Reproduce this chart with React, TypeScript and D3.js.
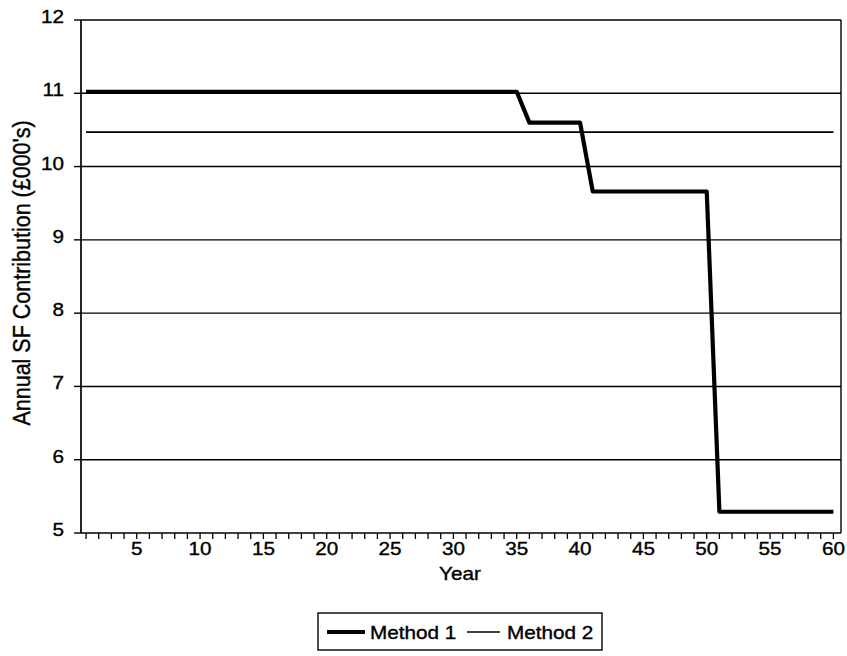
import React from "react";
import * as d3 from "d3";

const years: number[] = [
  1, 2, 3, 4, 5, 6, 7, 8, 9, 10, 11, 12, 13, 14, 15, 16, 17, 18, 19, 20,
  21, 22, 23, 24, 25, 26, 27, 28, 29, 30, 31, 32, 33, 34, 35, 36, 37, 38, 39, 40,
  41, 42, 43, 44, 45, 46, 47, 48, 49, 50, 51, 52, 53, 54, 55, 56, 57, 58, 59, 60,
];

const method1: number[] = [
  11.02, 11.02, 11.02, 11.02, 11.02, 11.02, 11.02, 11.02, 11.02, 11.02,
  11.02, 11.02, 11.02, 11.02, 11.02, 11.02, 11.02, 11.02, 11.02, 11.02,
  11.02, 11.02, 11.02, 11.02, 11.02, 11.02, 11.02, 11.02, 11.02, 11.02,
  11.02, 11.02, 11.02, 11.02, 11.02, 10.6, 10.6, 10.6, 10.6, 10.6,
  9.66, 9.66, 9.66, 9.66, 9.66, 9.66, 9.66, 9.66, 9.66, 9.66,
  5.29, 5.29, 5.29, 5.29, 5.29, 5.29, 5.29, 5.29, 5.29, 5.29,
];

const method2: number[] = [
  10.47, 10.47, 10.47, 10.47, 10.47, 10.47, 10.47, 10.47, 10.47, 10.47,
  10.47, 10.47, 10.47, 10.47, 10.47, 10.47, 10.47, 10.47, 10.47, 10.47,
  10.47, 10.47, 10.47, 10.47, 10.47, 10.47, 10.47, 10.47, 10.47, 10.47,
  10.47, 10.47, 10.47, 10.47, 10.47, 10.47, 10.47, 10.47, 10.47, 10.47,
  10.47, 10.47, 10.47, 10.47, 10.47, 10.47, 10.47, 10.47, 10.47, 10.47,
  10.47, 10.47, 10.47, 10.47, 10.47, 10.47, 10.47, 10.47, 10.47, 10.47,
];

const xTickLabels: number[] = [5, 10, 15, 20, 25, 30, 35, 40, 45, 50, 55, 60];
const yTicks: number[] = [5, 6, 7, 8, 9, 10, 11, 12];
const seriesNames: string[] = ["Method 1", "Method 2"];

const FONT = "'Liberation Sans', Arial, sans-serif";
const SX = 1.15;

function SText(props: {
  x: number;
  y: number;
  anchor?: string;
  size?: number;
  rotate?: number;
  children: React.ReactNode;
}) {
  const { x, y, anchor = "start", size = 18, rotate = 0, children } = props;
  return (
    <text
      transform={`translate(${x},${y}) scale(${SX},1)${rotate ? ` rotate(${rotate})` : ""}`}
      textAnchor={anchor}
      fontFamily={FONT}
      fontSize={size}
      fill="#000"
      stroke="#000"
      strokeWidth={0.35}
    >
      {children}
    </text>
  );
}

export default function App() {
  const W = 847;
  const H = 656;
  const left = 81;
  const right = 841;
  const top = 20;
  const bottom = 533;

  const x = d3.scaleLinear().domain([0.6, 60.6]).range([left, right]);
  const y = d3.scaleLinear().domain([5, 12]).range([bottom, top]);

  const line = d3
    .line<number>()
    .x((_, i) => x(years[i]))
    .y((d) => y(d));

  return (
    <svg
      width={W}
      height={H}
      style={{ position: "absolute", left: 0, top: 0, background: "#fff" }}
    >
      <rect x={0} y={0} width={W} height={H} fill="#fff" />
      {yTicks
        .filter((t) => t > 5)
        .map((t) => (
          <line
            key={"g" + t}
            x1={left}
            x2={right}
            y1={y(t)}
            y2={y(t)}
            stroke="#000"
            strokeWidth={1.4}
          />
        ))}
      <line x1={right} x2={right} y1={top} y2={bottom} stroke="#000" strokeWidth={1.4} />
      <line x1={left} x2={left} y1={top} y2={bottom} stroke="#000" strokeWidth={1.7} />
      <line x1={left} x2={right} y1={bottom} y2={bottom} stroke="#000" strokeWidth={1.7} />
      {yTicks.map((t) => (
        <g key={"yt" + t}>
          <line x1={left - 7} x2={left} y1={y(t)} y2={y(t)} stroke="#000" strokeWidth={1.4} />
          <SText x={64} y={y(t) + 3} anchor="end">
            {t}
          </SText>
        </g>
      ))}
      {years.map((yr) => (
        <line
          key={"xt" + yr}
          x1={x(yr)}
          x2={x(yr)}
          y1={bottom}
          y2={bottom + 6}
          stroke="#000"
          strokeWidth={1.3}
        />
      ))}
      {xTickLabels.map((t) => (
        <SText key={"xl" + t} x={x(t)} y={555} anchor="middle">
          {t}
        </SText>
      ))}
      <path d={line(method2) || ""} fill="none" stroke="#000" strokeWidth={1.6} />
      <path
        d={line(method1) || ""}
        fill="none"
        stroke="#000"
        strokeWidth={4.2}
        strokeLinejoin="round"
      />
      <SText x={460} y={580} anchor="middle">
        Year
      </SText>
      <SText x={30} y={273} anchor="middle" size={21.5} rotate={-90}>
        Annual SF Contribution (£000's)
      </SText>
      <rect x={318} y={613} width={284} height={37} fill="none" stroke="#000" strokeWidth={1.4} />
      <line x1={327} x2={365} y1={632} y2={632} stroke="#000" strokeWidth={4.2} />
      <SText x={370} y={638.5}>{seriesNames[0]}</SText>
      <line x1={467} x2={500} y1={632} y2={632} stroke="#000" strokeWidth={1.6} />
      <SText x={507} y={638.5}>{seriesNames[1]}</SText>
    </svg>
  );
}
